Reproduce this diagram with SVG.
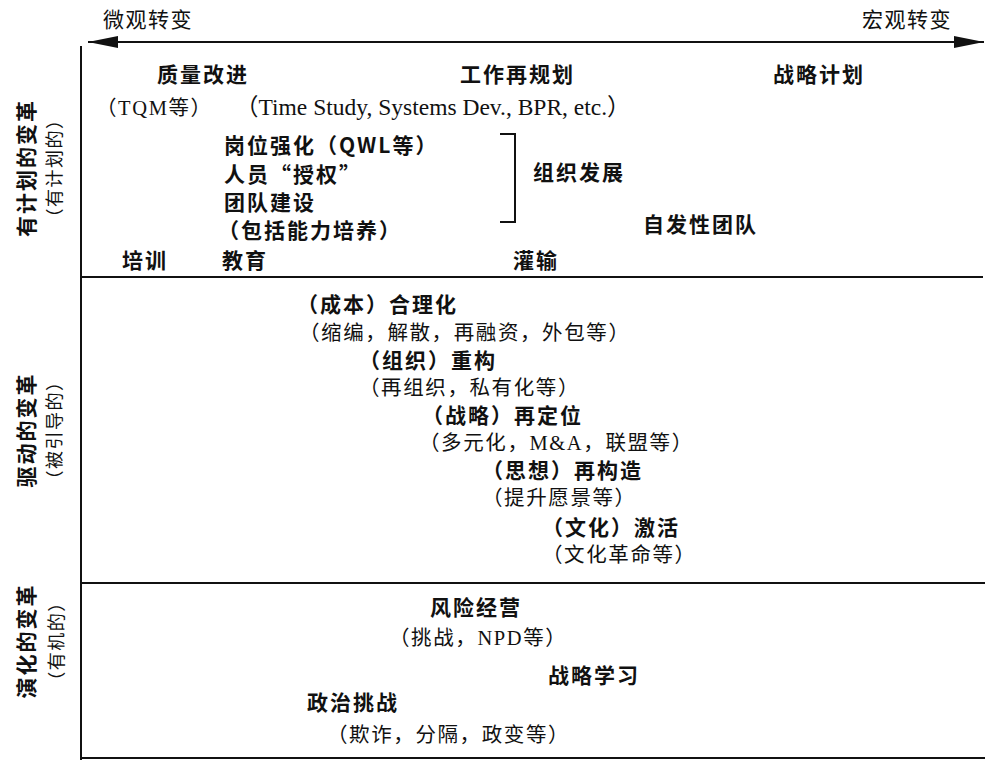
<svg xmlns="http://www.w3.org/2000/svg" width="990" height="762" viewBox="0 0 990 762">
<style>
text{fill:#111;}
.b{font-family:"Noto Sans CJK SC","Liberation Sans",sans-serif;font-weight:bold;font-size:21px;letter-spacing:2px;}
.r{font-family:"Liberation Serif","Noto Sans CJK SC",serif;font-size:20.5px;letter-spacing:1.6px;}
.h{font-family:"Noto Sans CJK SC",sans-serif;font-size:21px;letter-spacing:1.5px;}
.vb{font-family:"Noto Sans CJK SC",sans-serif;font-weight:bold;font-size:21px;letter-spacing:2px;text-anchor:middle;dominant-baseline:central;}
.vr{font-family:"Noto Sans CJK SC",sans-serif;font-size:18px;letter-spacing:1.5px;text-anchor:middle;dominant-baseline:central;}
.ln{stroke:#111;stroke-width:2;fill:none;}
</style>
<defs>
<marker id="ah" viewBox="0 0 30 12" refX="30" refY="6" markerWidth="30" markerHeight="12" markerUnits="userSpaceOnUse" orient="auto">
<path d="M0,0 L30,6 L0,12 Z" fill="#111"/>
</marker>
</defs>
<g id="connectors">
<line class="ln" x1="535" y1="42" x2="88" y2="42" marker-end="url(#ah)"/>
<line class="ln" x1="535" y1="42" x2="984" y2="42" marker-end="url(#ah)"/>
<line class="ln" x1="81" y1="46" x2="81" y2="760"/>
<line class="ln" x1="81" y1="277" x2="983" y2="277"/>
<line class="ln" x1="81" y1="583" x2="985" y2="583"/>
<line class="ln" x1="81" y1="758" x2="985" y2="758"/>
<path class="ln" d="M500,134 H515 V222 H500" stroke-width="1.8"/>
</g>
<g id="axis-labels">
<text class="h" x="103" y="27">微观转变</text>
<text class="h" x="862" y="27">宏观转变</text>
</g>
<g id="row-planned">
<text class="vb" transform="translate(25,168) rotate(-90)">有计划的变革</text>
<text class="vr" transform="translate(53,168) rotate(-90)">（有计划的）</text>
</g>
<g id="row-driven">
<text class="vb" transform="translate(25,430) rotate(-90)">驱动的变革</text>
<text class="vr" transform="translate(53,430) rotate(-90)">（被引导的）</text>
</g>
<g id="row-evolved">
<text class="vb" transform="translate(25,641) rotate(-90)">演化的变革</text>
<text class="vr" transform="translate(55,641) rotate(-90)">（有机的）</text>
</g>
<g id="n-quality"><text class="b" x="157" y="82">质量改进</text><text class="r" x="96" y="115">（TQM等）</text></g>
<g id="n-rework"><text class="b" x="460" y="82">工作再规划</text><text class="r" x="235" y="115" style="font-size:23.5px;letter-spacing:0px">（Time Study, Systems Dev., BPR, etc.）</text></g>
<g id="n-strategic-plan"><text class="b" x="773" y="82">战略计划</text></g>
<g id="n-od-list">
<text class="b" x="224" y="153">岗位强化（QWL等）</text>
<text class="b" x="224" y="182">人员“授权”</text>
<text class="b" x="224" y="210">团队建设</text>
<text class="b" x="218" y="238">（包括能力培养）</text>
</g>
<g id="n-od"><text class="b" x="533" y="180">组织发展</text></g>
<g id="n-selfteam"><text class="b" x="643" y="232">自发性团队</text></g>
<g id="n-training"><text class="b" x="122" y="268">培训</text></g>
<g id="n-education"><text class="b" x="222" y="268">教育</text></g>
<g id="n-indoctrination"><text class="b" x="513" y="268">灌输</text></g>
<g id="n-rationalize"><text class="b" x="297" y="312">（成本）合理化</text><text class="r" x="299" y="340">（缩编，解散，再融资，外包等）</text></g>
<g id="n-restructure"><text class="b" x="359" y="368">（组织）重构</text><text class="r" x="359" y="395">（再组织，私有化等）</text></g>
<g id="n-reposition"><text class="b" x="422" y="423">（战略）再定位</text><text class="r" x="419" y="450">（多元化，M&amp;A，联盟等）</text></g>
<g id="n-reconstruct"><text class="b" x="482" y="478">（思想）再构造</text><text class="r" x="482" y="505">（提升愿景等）</text></g>
<g id="n-revitalize"><text class="b" x="542" y="535">（文化）激活</text><text class="r" x="542" y="562">（文化革命等）</text></g>
<g id="n-venture"><text class="b" x="430" y="615">风险经营</text><text class="r" x="389" y="645">（挑战，NPD等）</text></g>
<g id="n-learning"><text class="b" x="548" y="683">战略学习</text></g>
<g id="n-politics"><text class="b" x="307" y="710">政治挑战</text><text class="r" x="327" y="742">（欺诈，分隔，政变等）</text></g>
</svg>
